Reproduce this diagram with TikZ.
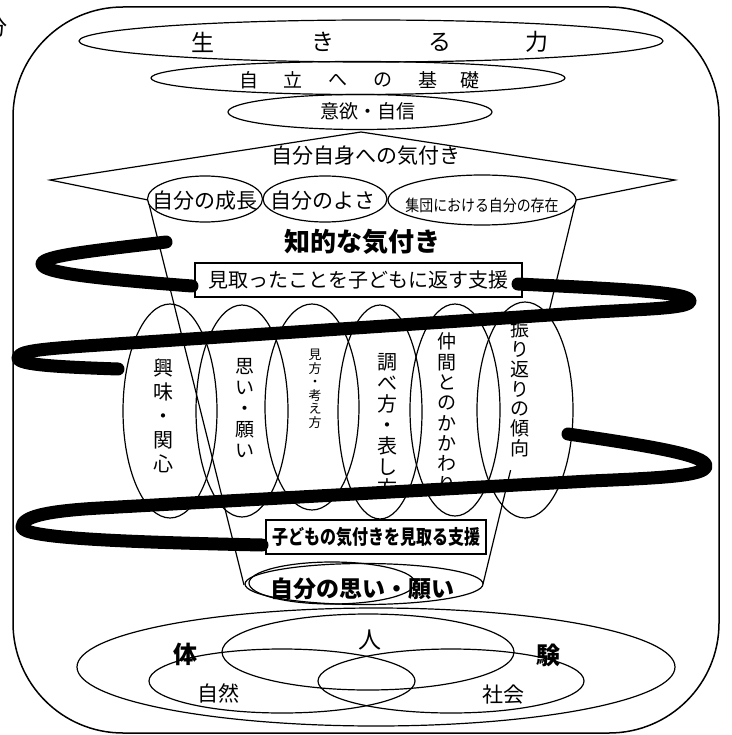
\documentclass[tikz,border=0pt]{standalone}
\usepackage{fontspec}
\usepackage{graphicx}
\setmainfont{Noto Sans CJK JP}
\usetikzlibrary{shapes.geometric,calc}
\begin{document}
\begin{tikzpicture}[x=1pt,y=-1pt,
  every node/.style={inner sep=0pt, outer sep=0pt},
  ln/.style={line width=1.2pt},
  ov/.style={ellipse, draw, line width=1.2pt, inner sep=0pt},
  band/.style={line width=13pt, line cap=round, line join=round},
  jbox/.style={draw, fill=white, line width=1.2pt, inner sep=0pt},
  vt/.style={anchor=north, align=center}
]
\useasboundingbox (0,0) rectangle (731,735);

% frame
\draw[line width=1.5pt, rounded corners=110pt] (13,7) rectangle (719,733);
\node (bun) at (-3,27) {\fontsize{22}{26}\selectfont 分};

% top ellipses
\node[ov, minimum width=584pt, minimum height=42pt] (ikiru) at (371,41) {};
\node[ov, minimum width=414pt, minimum height=33pt] (jiritsu) at (358,78) {};
\node[ov, minimum width=264pt, minimum height=35pt] (iyoku) at (360,112) {};
\foreach \c/\x [count=\i] in {生/203, き/323, る/440, 力/537}
  \node (ik\i) at (\x,42) {\fontsize{23}{26}\selectfont\c};
\foreach \c/\x [count=\i] in {自/249, 立/293, へ/338, の/383, 基/428, 礎/470}
  \node (ji\i) at (\x,80) {\fontsize{19}{22}\selectfont\c};
\node (iyokut) at (368,111) {\fontsize{19}{22}\selectfont 意欲・自信};

% roof and trapezoid
\coordinate (apex) at (361,132);
\coordinate (ltip) at (50,180);
\coordinate (rtip) at (675,180);
\coordinate (lin) at (148,200);
\coordinate (rin) at (576,200);
\coordinate (lbot) at (244,585);
\coordinate (rbot) at (483,584);
\draw[ln] (lbot) -- (lin) -- (ltip) -- (apex) -- (rtip) -- (rin) -- (rbot);
\fill[white] (503,312) rectangle (560,470);
\node (jibun) at (366,156) {\fontsize{21}{24}\selectfont 自分自身への気付き};

% row ellipses
\node[ov, fill=white, minimum width=115pt, minimum height=46pt] (seicho) at (205,199) {};
\node[ov, fill=white, minimum width=124pt, minimum height=46pt] (yosa) at (325,199) {};
\node[ov, fill=white, minimum width=188pt, minimum height=50pt] (shudan) at (482,200) {};
\node (seichot) at (205,201) {\fontsize{21}{24}\selectfont 自分の成長};
\node (yosat) at (323,201) {\fontsize{21}{24}\selectfont 自分のよさ};
\node (shudant) at (482,205) {\scalebox{0.87}[1]{\fontsize{16}{19}\selectfont 集団における自分の存在}};

\node (chiteki) at (362,242) {\fontsize{26}{30}\selectfont\bfseries 知的な気付き};

% vertical ellipses
\node[ov, minimum width=94pt, minimum height=214pt] (v1) at (170,411) {};
\node[ov, minimum width=92pt, minimum height=212pt] (v2) at (242,411) {};
\node[ov, minimum width=94pt, minimum height=206pt] (v3) at (312,407) {};
\node[ov, minimum width=84pt, minimum height=214pt] (v4) at (380,412) {};
\node[ov, minimum width=90pt, minimum height=212pt] (v5) at (455,410) {};
\node[ov, minimum width=96pt, minimum height=216pt] (v6) at (525,410) {};

\node[vt, font=\fontsize{20}{24}\selectfont] (t1) at (163,359) {興\\味\\・\\関\\心};
\node[vt, font=\fontsize{19}{21}\selectfont] (t2) at (245,358) {思\\い\\・\\願\\い};
\node[vt, font=\fontsize{13}{13.6}\selectfont] (t3) at (315,349) {見\\方\\・\\考\\え\\方};
\node[vt, font=\fontsize{20}{21}\selectfont] (t4) at (387,353) {調\\べ\\方\\・\\表\\し\\方};
\node[vt, font=\fontsize{19}{20.3}\selectfont] (t5) at (447,333) {仲\\間\\と\\の\\か\\か\\わ\\り};
\node[vt, font=\fontsize{19}{19.7}\selectfont] (t6) at (520,321) {振\\り\\返\\り\\の\\傾\\向};

% boxes
\node[jbox, minimum width=327pt, minimum height=34pt] (mitotta) at (358.5,280)
  {\fontsize{20}{24}\selectfont 見取ったことを子どもに返す支援};
\node[jbox, minimum width=220pt, minimum height=34pt] (kodomo) at (376,537)
  {\scalebox{0.8}[1]{\fontsize{20}{24}\selectfont\bfseries 子どもの気付きを見取る支援}};

% spiral
\draw[band] (166,242) .. controls (90,251) and (42,256) .. (42,264)
  .. controls (42,273) and (100,279) .. (192,286);
\draw[band] (518,284) .. controls (620,289) and (690,292) .. (690,301)
  .. controls (690,309) and (640,309) .. (580,313) -- (100,345)
  .. controls (40,349) and (18,351) .. (18,358)
  .. controls (18,365) and (60,367) .. (118,369);
\draw[band] (568,434) .. controls (650,446) and (706,455) .. (706,466)
  .. controls (706,476) and (660,478) .. (590,481) -- (100,508)
  .. controls (45,511) and (22,517) .. (22,527)
  .. controls (22,538) and (120,542) .. (262,545);

% own wish
\node[ov, fill=white, minimum width=238pt, minimum height=41pt] (omoi) at (364,584) {};
\node[ov, minimum width=166pt, minimum height=42pt] (omoi2) at (332,583) {};
\node (omoit) at (362,589) {\fontsize{23}{26}\selectfont\bfseries 自分の思い・願い};

% experience
\node[ov, minimum width=598pt, minimum height=118pt] (taiken) at (376,667) {};
\node[ov, minimum width=292pt, minimum height=76pt] (hito) at (368,652) {};
\node[ov, minimum width=266pt, minimum height=64pt] (shizen) at (282,681) {};
\node[ov, minimum width=266pt, minimum height=64pt] (shakai) at (451,681) {};
\node (tai) at (185,654) {\fontsize{24}{28}\selectfont\bfseries 体};
\node (ken) at (548,655) {\fontsize{24}{28}\selectfont\bfseries 験};
\node (hitot) at (370,640) {\fontsize{23}{26}\selectfont 人};
\node (shizent) at (218,693) {\fontsize{21}{24}\selectfont 自然};
\node (shakait) at (503,695) {\fontsize{21}{24}\selectfont 社会};
\end{tikzpicture}
\end{document}
